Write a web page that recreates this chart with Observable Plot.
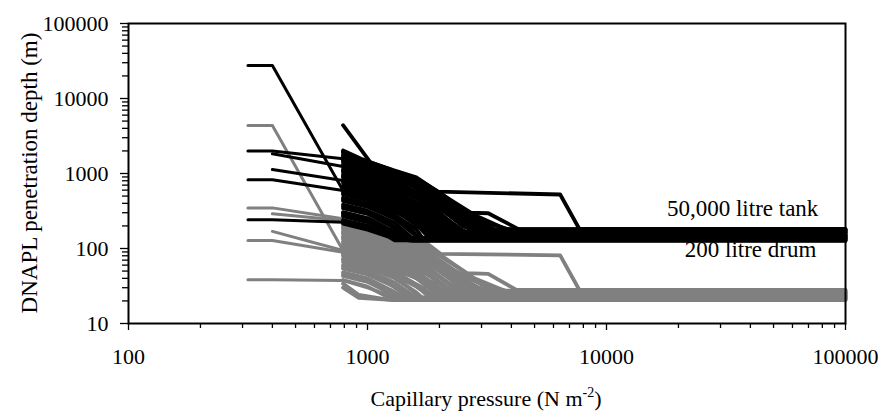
<!DOCTYPE html>
<html><head><meta charset="utf-8">
<script src="https://cdn.jsdelivr.net/npm/d3@7"></script>
<script src="https://cdn.jsdelivr.net/npm/@observablehq/plot@0.6"></script>
<style>body{margin:0;background:#fff} svg{display:block}</style>
</head><body><div id="chart"></div>
<script>
// Tick values
const xMajor = [100, 1000, 10000, 100000];
const xMinor = [200,300,400,500,600,700,800,900,2000,3000,4000,5000,6000,7000,8000,9000,20000,30000,40000,50000,60000,70000,80000,90000];
const yMajor = [10, 100, 1000, 10000, 100000];
const yMinor = [20,30,40,50,60,70,80,90,200,300,400,500,600,700,800,900,2000,3000,4000,5000,6000,7000,8000,9000,20000,30000,40000,50000,60000,70000,80000,90000];

// 50,000 litre tank series: [capillary pressure, penetration depth]
const tankLines = [
  [[316,27500],[400,27500],[790,593],[1000,470],[1300,350],[1700,230],[2200,150],[100000,150]],
  [[316,2000],[400,2000],[790,1570],[1000,1200],[1300,920],[1700,600],[2300,320],[3000,170],[100000,170]],
  [[400,1830],[790,1240],[1000,1000],[1300,760],[1700,470],[2300,250],[2900,160],[100000,160]],
  [[400,1130],[790,807],[1000,660],[1300,480],[1700,300],[2200,170],[2400,150],[100000,150]],
  [[316,824],[400,824],[790,593],[1000,490],[1300,360],[1700,220],[2000,145],[100000,145]],
  [[316,241],[400,241],[790,224],[1000,185],[1300,140],[1500,131],[100000,131]],
  [[790,4400],[1030,1400],[1290,1100],[1600,890],[1960,575],[6400,525],[7700,182],[100000,182]],
  [[790,2030],[940,1570],[1300,1080],[1600,870],[2000,560],[2600,300],[3200,295],[4300,180],[100000,180]],
  [[790,1960],[1000,1350],[1300,1060],[1650,800],[2100,500],[2800,280],[3800,181],[100000,181]],
  [[790,1900],[1000,1380],[1300,1040],[1600,820],[2000,520],[2600,290],[3400,178],[100000,178]],
  [[790,1780],[1000,1320],[1300,990],[1650,700],[2100,430],[2700,240],[3500,175],[100000,175]],
  [[790,1700],[1000,1290],[1300,970],[1700,620],[2300,350],[3000,230],[4000,176],[100000,176]],
  [[790,1650],[1000,1250],[1300,950],[1600,720],[2000,450],[2500,260],[3200,172],[100000,172]],
  [[790,1540],[1000,1180],[1350,880],[1700,560],[2200,320],[2900,170],[100000,170]],
  [[790,1480],[1000,1150],[1300,880],[1650,620],[2100,370],[2800,200],[3400,170],[100000,170]],
  [[790,1430],[1000,1120],[1300,860],[1600,640],[2000,400],[2600,220],[3100,168],[100000,168]],
  [[790,1330],[1000,1050],[1300,800],[1700,500],[2200,280],[2800,165],[100000,165]],
  [[790,1280],[1000,1020],[1300,770],[1650,520],[2100,310],[2700,180],[3000,162],[100000,162]],
  [[790,1230],[1000,980],[1300,740],[1600,560],[2000,350],[2500,200],[2900,163],[100000,163]],
  [[790,1140],[1000,920],[1300,690],[1700,430],[2100,260],[2600,160],[100000,160]],
  [[790,1090],[1000,880],[1300,660],[1650,440],[2100,240],[2500,165],[100000,165]],
  [[790,1050],[1000,850],[1300,640],[1600,480],[2000,300],[2400,185],[2700,158],[100000,158]],
  [[790,970],[1000,790],[1300,590],[1700,370],[2200,200],[2500,155],[100000,155]],
  [[790,920],[1000,760],[1300,560],[1650,360],[2000,230],[2400,152],[100000,152]],
  [[790,890],[1000,730],[1300,540],[1600,400],[2000,250],[2400,153],[100000,153]],
  [[790,820],[1000,680],[1300,500],[1700,310],[2100,180],[2300,150],[100000,150]],
  [[790,780],[1000,650],[1300,480],[1650,300],[2000,175],[2150,149],[100000,149]],
  [[790,750],[1000,620],[1300,460],[1600,340],[2000,200],[2200,148],[100000,148]],
  [[790,690],[1000,570],[1300,420],[1700,260],[2100,146],[100000,146]],
  [[790,660],[1000,545],[1300,400],[1650,240],[1950,150],[100000,150]],
  [[790,630],[1000,520],[1300,380],[1600,280],[1950,160],[2050,144],[100000,144]],
  [[790,575],[1000,480],[1300,345],[1700,210],[1900,142],[100000,142]],
  [[790,550],[1000,460],[1300,330],[1650,190],[1800,141],[100000,141]],
  [[790,525],[1000,440],[1300,310],[1600,220],[1850,140],[100000,140]],
  [[790,475],[1000,400],[1300,280],[1600,180],[1700,138],[100000,138]],
  [[790,450],[1000,380],[1300,265],[1550,170],[1650,137],[100000,137]],
  [[790,430],[1000,360],[1300,250],[1550,160],[1650,136],[100000,136]],
  [[790,385],[1000,320],[1300,220],[1550,134],[100000,134]],
  [[790,365],[1000,305],[1250,210],[1500,140],[100000,140]],
  [[790,345],[1000,290],[1250,200],[1450,132],[100000,132]],
  [[790,305],[1000,255],[1250,175],[1400,130],[100000,130]],
  [[790,290],[1000,240],[1200,180],[1400,133],[100000,133]],
  [[790,270],[1000,225],[1200,165],[1350,129],[100000,129]],
  [[790,240],[1000,200],[1200,150],[1300,128],[100000,128]],
  [[790,215],[1000,178],[1300,135],[1550,126],[100000,126]]
];

// 200 litre drum series
const drumLines = [
  [[316,4370],[400,4370],[790,94],[1000,73],[1300,52],[1700,37],[2300,25],[100000,25]],
  [[316,348],[400,348],[790,249],[1000,190],[1300,143],[1800,80],[2500,40],[3300,24],[100000,24]],
  [[400,290],[790,236],[1100,143],[1500,98],[2100,54],[3000,27],[100000,27]],
  [[400,169],[790,94],[1100,70],[1500,48],[2000,33],[2700,23],[100000,23]],
  [[316,128],[400,128],[790,89],[1100,64],[1500,44],[2000,30],[2600,22],[100000,22]],
  [[316,38.3],[400,38.3],[790,37.4],[1000,30],[1300,22.5],[100000,22.5]],
  [[790,290],[1000,245],[1300,195],[1600,150],[2020,85],[6400,81],[7700,28],[100000,28]],
  [[790,280],[1000,230],[1300,175],[1650,125],[2100,75],[2800,40],[3800,27],[100000,27]],
  [[790,270],[1000,215],[1300,160],[1600,120],[2000,80],[2600,47],[3200,46],[4200,28],[100000,28]],
  [[790,260],[1000,210],[1300,155],[1700,100],[2300,52],[3000,33],[4000,26],[100000,26]],
  [[790,250],[1000,205],[1300,150],[1700,100],[2200,55],[2900,30],[3500,27.5],[100000,27.5]],
  [[790,232],[1000,190],[1300,142],[1600,105],[2000,65],[2600,35],[3200,27],[100000,27]],
  [[790,224],[1000,184],[1300,140],[1650,98],[2100,58],[2800,30],[3400,26],[100000,26]],
  [[790,215],[1000,178],[1350,128],[1700,85],[2200,45],[2900,26.5],[100000,26.5]],
  [[790,198],[1000,165],[1300,125],[1600,95],[2000,58],[2600,31],[3100,26],[100000,26]],
  [[790,190],[1000,158],[1300,118],[1650,80],[2100,47],[2700,28],[3000,25],[100000,25]],
  [[790,183],[1000,152],[1300,112],[1700,72],[2200,40],[2800,25.5],[100000,25.5]],
  [[790,170],[1000,142],[1300,104],[1600,78],[2000,50],[2500,29],[2900,25.5],[100000,25.5]],
  [[790,164],[1000,137],[1300,100],[1650,68],[2100,38],[2500,26],[100000,26]],
  [[790,157],[1000,132],[1300,97],[1700,60],[2100,37],[2600,25],[100000,25]],
  [[790,145],[1000,120],[1300,90],[1600,67],[2000,42],[2400,27],[2700,24.5],[100000,24.5]],
  [[790,140],[1000,116],[1300,86],[1650,57],[2000,36],[2400,24],[100000,24]],
  [[790,134],[1000,111],[1300,82],[1700,51],[2200,28],[2500,24.5],[100000,24.5]],
  [[790,123],[1000,103],[1300,76],[1600,56],[2000,35],[2400,24],[100000,24]],
  [[790,118],[1000,99],[1300,73],[1650,47],[2000,28],[2150,23.5],[100000,23.5]],
  [[790,113],[1000,95],[1300,70],[1700,43],[2100,25.5],[2300,23.5],[100000,23.5]],
  [[790,104],[1000,87],[1300,64],[1600,47],[2000,28],[2200,23.5],[100000,23.5]],
  [[790,100],[1000,84],[1300,62],[1650,38],[1950,24],[100000,24]],
  [[790,96],[1000,80],[1300,59],[1700,36],[2100,23],[100000,23]],
  [[790,88],[1000,74],[1300,54],[1600,40],[1950,25],[2050,23],[100000,23]],
  [[790,84],[1000,70],[1300,51],[1650,30],[1800,22.5],[100000,22.5]],
  [[790,80],[1000,67],[1300,48],[1700,30],[1900,22.5],[100000,22.5]],
  [[790,73],[1000,62],[1300,44],[1600,31],[1850,22.5],[100000,22.5]],
  [[790,70],[1000,59],[1300,42],[1550,27],[1650,22],[100000,22]],
  [[790,66],[1000,56],[1300,40],[1600,26],[1700,22],[100000,22]],
  [[790,60],[1000,51],[1300,35],[1550,23.5],[1650,22],[100000,22]],
  [[790,57],[1000,48],[1250,33],[1500,22],[100000,22]],
  [[790,54],[1000,45],[1300,31],[1550,21.5],[100000,21.5]],
  [[790,48],[1000,40],[1250,28],[1450,21.5],[100000,21.5]],
  [[790,45],[1000,38],[1200,28],[1400,21],[100000,21]],
  [[790,43],[1000,36],[1250,25],[1400,21],[100000,21]],
  [[790,38],[1000,31],[1200,23],[1350,21],[100000,21]],
  [[790,34],[920,24],[1200,21],[1300,20.5],[100000,20.5]],
  [[790,30],[920,22],[1300,20.5],[100000,20.5]]
];

// Annotations
const labelText = ["50,000 litre tank", "200 litre drum"];
const labelX = [77000, 75500];
const labelY = [275, 76.5];

// Lines that start below 790 N m-2 are drawn individually; the rest form the dense bundle
const toRows = (lines, group) => lines.flatMap((pts, i) => pts.map(([x, y]) => ({x, y, id: group + i, bundle: pts[0][0] >= 790})));
const tankRows = toRows(tankLines, "tank");
const drumRows = toRows(drumLines, "drum");

const FONT = "'Liberation Serif', 'Times New Roman', Times, serif";
const lineOpts = (color, width) => ({x: "x", y: "y", z: "id", stroke: color, strokeWidth: width, strokeLinejoin: "round", strokeLinecap: "round"});

const plot = Plot.plot({
  width: 878, height: 412,
  marginLeft: 128, marginRight: 33, marginTop: 23, marginBottom: 89,
  x: {type: "log", domain: [100, 100000]},
  y: {type: "log", domain: [10, 100000]},
  style: {fontFamily: FONT, fontSize: "22px", color: "black", background: "white", overflow: "visible"},
  marks: [
    Plot.line(drumRows.filter(d => !d.bundle), lineOpts("#808080", 3)),
    Plot.line(drumRows.filter(d => d.bundle), lineOpts("#808080", 3.8)),
    Plot.line(tankRows.filter(d => !d.bundle), lineOpts("#000000", 3)),
    Plot.line(tankRows.filter(d => d.bundle), lineOpts("#000000", 3.8)),
    Plot.axisX(xMinor, {tickSize: 5, fill: "none", label: null, strokeWidth: 1.3}),
    Plot.axisX(xMajor, {tickSize: 7, tickPadding: 18, tickFormat: d => String(d), label: null, strokeWidth: 1.3}),
    Plot.axisY(yMinor, {tickSize: 6, fill: "none", label: null, strokeWidth: 1.3}),
    Plot.axisY(yMajor, {tickSize: 8, tickPadding: 12, tickFormat: d => String(d), label: null, strokeWidth: 1.3}),
    Plot.frame({stroke: "black", strokeWidth: 2}),
    Plot.text(labelText, {x: (d, i) => labelX[i], y: (d, i) => labelY[i], text: d => d, textAnchor: "end", lineAnchor: "bottom", fontSize: 23, fill: "black"})
  ]
});

const svg = d3.select(plot);
svg.append("text")
  .attr("transform", "translate(37,173) rotate(-90)")
  .attr("text-anchor", "middle")
  .attr("font-size", 23)
  .attr("fill", "black")
  .text("DNAPL penetration depth (m)");
const t = svg.append("text")
  .attr("x", 486).attr("y", 406)
  .attr("text-anchor", "middle")
  .attr("font-size", 22)
  .attr("fill", "black");
t.append("tspan").text("Capillary pressure (N m");
t.append("tspan").attr("dy", -9).attr("font-size", 14).text("-2");
t.append("tspan").attr("dy", 9).text(")");

document.getElementById("chart").appendChild(plot);
</script>
</body></html>
